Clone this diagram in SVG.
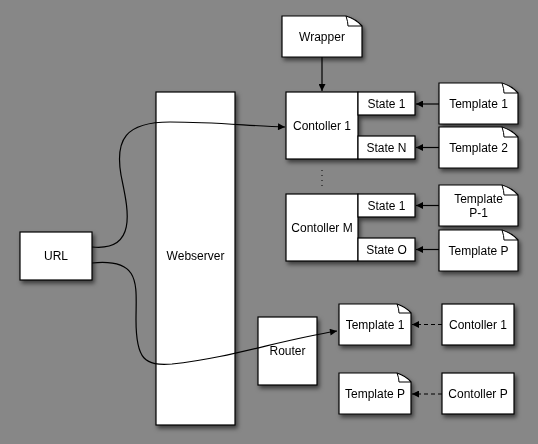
<svg xmlns="http://www.w3.org/2000/svg" width="538" height="444" viewBox="0 0 538 444">
<defs>
<style>
.b{fill:#fff;stroke:#000;stroke-width:1.2}
.f{fill:none;stroke:#000;stroke-width:1}
.t{font-family:"Liberation Sans",Arial,sans-serif;font-size:12px;fill:#000;text-anchor:middle;dominant-baseline:central}
.c{fill:none;stroke:#000;stroke-width:1.2}
.d{fill:none;stroke:#000;stroke-width:1.2;stroke-dasharray:4,3}
</style>
<filter id="sh" x="-20%" y="-20%" width="150%" height="150%">
<feDropShadow dx="2" dy="3" stdDeviation="2" flood-color="#000" flood-opacity="0.55"/>
</filter>
<marker id="ar" viewBox="0 0 10 10" refX="10" refY="5" markerWidth="9" markerHeight="7" markerUnits="userSpaceOnUse" orient="auto">
<path d="M0,0 L10,5 L0,10 Z" fill="#000"/>
</marker>
</defs>
<rect width="538" height="444" fill="#878787"/>

<g id="url" filter="url(#sh)"><rect class="b" x="20" y="232" width="72" height="48"/><text class="t" x="56" y="256">URL</text></g>
<g id="webserver" filter="url(#sh)"><rect class="b" x="156" y="92" width="79" height="333"/><text class="t" x="195.5" y="256">Webserver</text></g>

<g id="wrapper" filter="url(#sh)"><path class="b" d="M282,16 L346,16 Q356,19 362,26 L362,57 L282,57 Z"/><path class="f" d="M346,16 Q348,22 348,26 L362,26"/><text class="t" x="322" y="37">Wrapper</text></g>

<g id="controller1" filter="url(#sh)"><rect class="b" x="286" y="92" width="72" height="67"/><rect class="b" x="358" y="92" width="57" height="23"/><rect class="b" x="358" y="136" width="57" height="23"/><text class="t" x="322" y="126">Contoller 1</text><text class="t" x="386.5" y="103.5">State 1</text><text class="t" x="386.5" y="147.5">State N</text></g>

<g id="template1" filter="url(#sh)"><path class="b" d="M439,83 L502,83 Q512,86 518,93 L518,124 L439,124 Z"/><path class="f" d="M502,83 Q504,89 504,93 L518,93"/><text class="t" x="478.5" y="104">Template 1</text></g>
<g id="template2" filter="url(#sh)"><path class="b" d="M439,127 L502,127 Q512,130 518,137 L518,168 L439,168 Z"/><path class="f" d="M502,127 Q504,133 504,137 L518,137"/><text class="t" x="478.5" y="148">Template 2</text></g>

<g id="controllerM" filter="url(#sh)"><rect class="b" x="286" y="194" width="72" height="67"/><rect class="b" x="358" y="194" width="57" height="23"/><rect class="b" x="358" y="238" width="57" height="23"/><text class="t" x="322" y="228">Contoller M</text><text class="t" x="386.5" y="205.5">State 1</text><text class="t" x="386.5" y="249.5">State O</text></g>

<g id="templateP1" filter="url(#sh)"><path class="b" d="M439,185 L502,185 Q512,188 518,195 L518,226 L439,226 Z"/><path class="f" d="M502,185 Q504,191 504,195 L518,195"/><text class="t" x="478.5" y="199">Template</text><text class="t" x="478.5" y="213">P-1</text></g>
<g id="templateP" filter="url(#sh)"><path class="b" d="M439,230 L502,230 Q512,233 518,240 L518,271 L439,271 Z"/><path class="f" d="M502,230 Q504,236 504,240 L518,240"/><text class="t" x="478.5" y="251">Template P</text></g>

<g id="router" filter="url(#sh)"><rect class="b" x="258" y="317" width="59" height="68"/><text class="t" x="287.5" y="351">Router</text></g>

<g id="templateR1" filter="url(#sh)"><path class="b" d="M339,304 L397,304 Q406,307 411,313 L411,345 L339,345 Z"/><path class="f" d="M397,304 Q399,309 399,313 L411,313"/><text class="t" x="375" y="324.5">Template 1</text></g>
<g id="templateRP" filter="url(#sh)"><path class="b" d="M339,373 L397,373 Q406,376 411,382 L411,414 L339,414 Z"/><path class="f" d="M397,373 Q399,378 399,382 L411,382"/><text class="t" x="375" y="394">Template P</text></g>

<g id="controllerR1" filter="url(#sh)"><rect class="b" x="442" y="304" width="72" height="41"/><text class="t" x="478" y="324.5">Contoller 1</text></g>
<g id="controllerRP" filter="url(#sh)"><rect class="b" x="442" y="373" width="72" height="41"/><text class="t" x="478" y="394">Contoller P</text></g>

<g id="connectors">
<path class="c" d="M92,247 C140,252 127,205 121,175 C115,140 125,122 170,122 C215,122 250,126 285,127" marker-end="url(#ar)"/>
<path class="c" d="M92,263 C142,258 136,285 136,320 C136,360 145,366 172,364 C230,358 280,340 337,331" marker-end="url(#ar)"/>
<line class="c" x1="322" y1="57" x2="322" y2="91" marker-end="url(#ar)"/>
<line class="c" x1="439" y1="104" x2="416" y2="104" marker-end="url(#ar)"/>
<line class="c" x1="439" y1="147.5" x2="416" y2="147.5" marker-end="url(#ar)"/>
<line class="c" x1="439" y1="205.5" x2="416" y2="205.5" marker-end="url(#ar)"/>
<line class="c" x1="439" y1="249.5" x2="416" y2="249.5" marker-end="url(#ar)"/>
<line class="d" x1="442" y1="324.5" x2="412" y2="324.5" marker-end="url(#ar)"/>
<line class="d" x1="442" y1="394" x2="412" y2="394" marker-end="url(#ar)"/>
<line x1="322" y1="170" x2="322" y2="188" stroke="#000" stroke-width="1" stroke-dasharray="1,4"/>
</g>
</svg>
